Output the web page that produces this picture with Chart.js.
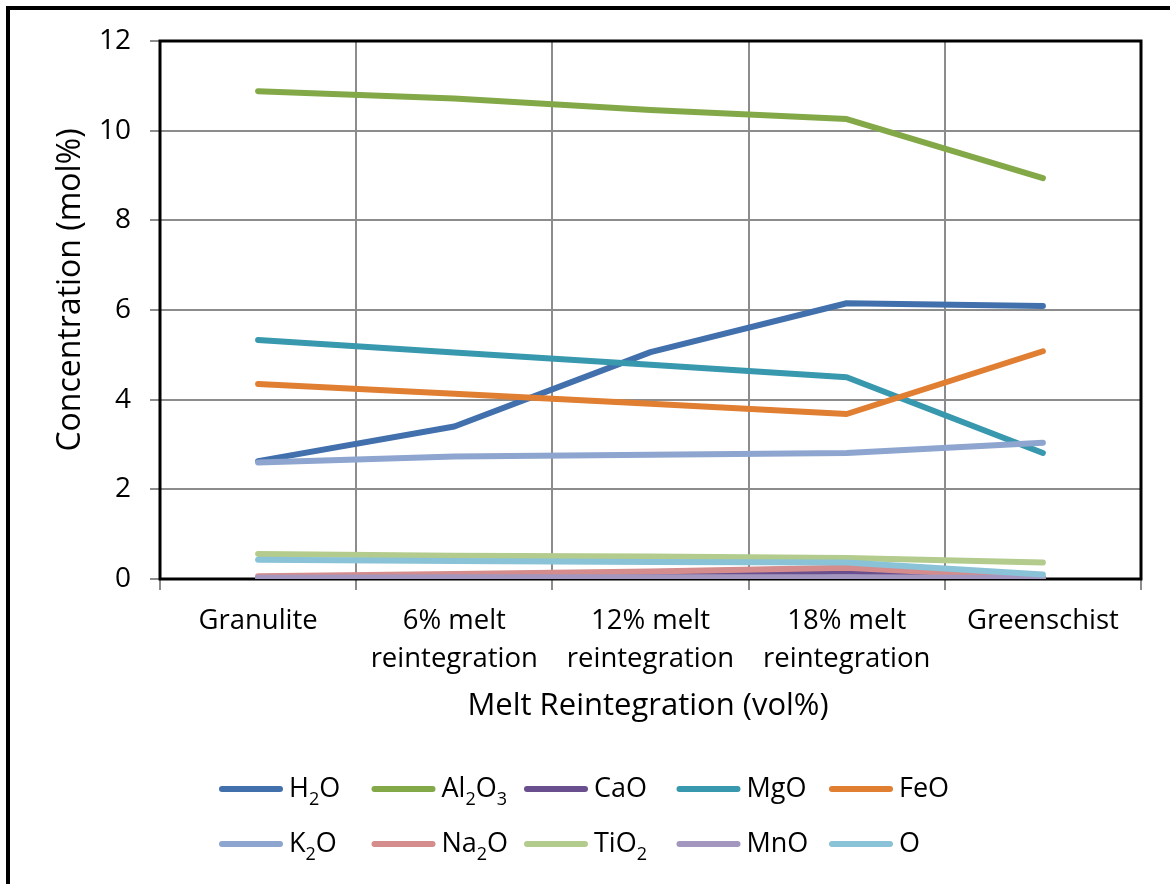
<!DOCTYPE html>
<html>
<head>
<meta charset="utf-8">
<title>Concentration vs melt reintegration</title>
<script src="https://cdn.jsdelivr.net/npm/chart.js@4/dist/chart.umd.min.js"></script>
<style>
  html, body { margin: 0; padding: 0; background: #ffffff; }
  #wrap { position: relative; width: 1170px; height: 884px; }
</style>
</head>
<body>
<div id="wrap"><canvas id="chart" width="1170" height="884"></canvas></div>
<script>
// Stages of melt reintegration (x categories)
const categories = [
  ["Granulite"],
  ["6% melt", "reintegration"],
  ["12% melt", "reintegration"],
  ["18% melt", "reintegration"],
  ["Greenschist"]
];

// Oxide concentrations, mol%
const h2o   = [2.63, 3.40, 5.06, 6.15, 6.09];
const al2o3 = [10.88, 10.72, 10.46, 10.26, 8.94];
const cao   = [0.02, 0.04, 0.07, 0.17, 0.02];
const mgo   = [5.33, 5.05, 4.78, 4.50, 2.81];
const feo   = [4.35, 4.13, 3.91, 3.68, 5.08];
const k2o   = [2.60, 2.73, 2.77, 2.81, 3.04];
const na2o  = [0.06, 0.11, 0.17, 0.25, 0.03];
const tio2  = [0.56, 0.52, 0.50, 0.47, 0.37];
const mno   = [0.03, 0.04, 0.04, 0.04, 0.02];
const oxy   = [0.43, 0.40, 0.38, 0.37, 0.10];

// Series names; "_" marks a subscript digit run
const seriesNames = ["H_2O", "Al_2O_3", "CaO", "MgO", "FeO", "K_2O", "Na_2O", "TiO_2", "MnO", "O"];
const seriesData = [h2o, al2o3, cao, mgo, feo, k2o, na2o, tio2, mno, oxy];
const seriesColors = ["#4170ac", "#83a847", "#6a4f8e", "#3898ae", "#e07e32",
                      "#8da5cf", "#d48d8c", "#b3cc8d", "#a397bf", "#8ac3d7"];

// Y axis
const yMin = 0, yMax = 12, yStep = 2;
const xTitle = "Melt Reintegration (vol%)";
const yTitle = "Concentration (mol%)";

const FONT = "'Open Sans', 'Liberation Sans', sans-serif";

// Draws a name like "Al_2O_3" with lowered, smaller subscripts; returns width
function drawChem(ctx, name, x, y, size) {
  const parts = name.split(/(_\d+)/).filter(s => s.length);
  let cx = x;
  for (const p of parts) {
    if (p[0] === "_") {
      ctx.font = Math.round(size * 0.68) + "px " + FONT;
      ctx.fillText(p.slice(1), cx, y + size * 0.42);
      cx += ctx.measureText(p.slice(1)).width;
    } else {
      ctx.font = size + "px " + FONT;
      ctx.fillText(p, cx, y);
      cx += ctx.measureText(p).width;
    }
  }
  return cx - x;
}

const framePlugin = {
  id: "frame",
  beforeDraw(chart) {
    const ctx = chart.ctx;
    ctx.save();
    ctx.fillStyle = "#ffffff";
    ctx.fillRect(0, 0, chart.width, chart.height);
    // outer black frame (top and left edges)
    ctx.fillStyle = "#000000";
    ctx.fillRect(6, 6, chart.width - 6, 4);
    ctx.fillRect(6, 6, 4, chart.height - 6);
    ctx.restore();
  },
  beforeDatasetsDraw(chart) {
    const { ctx, chartArea: a } = chart;
    ctx.save();
    ctx.strokeStyle = "#000000";
    ctx.lineWidth = 3;
    ctx.strokeRect(a.left, a.top, a.right - a.left, a.bottom - a.top);
    ctx.restore();
  },
  afterDraw(chart) {
    const { ctx } = chart;
    ctx.save();
    ctx.fillStyle = "#000000";
    ctx.textBaseline = "middle";
    // axis titles
    ctx.font = "31px " + FONT;
    ctx.textAlign = "center";
    ctx.fillText(xTitle, 648, 706);
    ctx.font = "32px " + FONT;
    ctx.translate(71, 290);
    ctx.rotate(-Math.PI / 2);
    ctx.fillText(yTitle, 0, 0);
    ctx.restore();

    // legend: 5 columns x 2 rows
    ctx.save();
    ctx.textBaseline = "middle";
    ctx.textAlign = "left";
    ctx.fillStyle = "#000000";
    seriesNames.forEach((name, i) => {
      const col = i % 5, row = Math.floor(i / 5);
      const x0 = 222 + col * 152.5;
      const y0 = 789 + row * 55;
      ctx.strokeStyle = seriesColors[i];
      ctx.lineWidth = 6;
      ctx.lineCap = "round";
      ctx.beginPath();
      ctx.moveTo(x0, y0);
      ctx.lineTo(x0 + 58, y0);
      ctx.stroke();
      drawChem(ctx, name, x0 + 67, y0, 27);
    });
    ctx.restore();
  }
};

const datasets = seriesNames.map((name, i) => ({
  label: name.replace(/_/g, ""),
  data: seriesData[i],
  borderColor: seriesColors[i],
  backgroundColor: seriesColors[i],
  borderWidth: 6,
  borderCapStyle: "round",
  borderJoinStyle: "round",
  pointRadius: 0,
  tension: 0,
  fill: false,
  order: -i   // later series painted on top
}));

new Chart(document.getElementById("chart"), {
  type: "line",
  data: { labels: categories, datasets },
  options: {
    responsive: false,
    animation: false,
    devicePixelRatio: 1,
    layout: { padding: { top: 41, right: 29, left: 0, bottom: 0 } },
    plugins: { legend: { display: false }, tooltip: { enabled: false } },
    scales: {
      x: {
        type: "category",
        offset: true,
        grid: {
          offset: true,
          color: "#8c8c8c",
          lineWidth: 2,
          tickLength: 11,
          drawOnChartArea: true
        },
        border: { display: false },
        ticks: {
          color: "#000000",
          font: { family: FONT, size: 27.5, lineHeight: 1.38 },
          padding: 12,
          maxRotation: 0,
          autoSkip: false
        },
        afterFit(scale) { scale.height = 884 - 579; }
      },
      y: {
        min: yMin,
        max: yMax,
        grid: { color: "#8c8c8c", lineWidth: 2, tickLength: 10 },
        border: { display: false },
        ticks: {
          stepSize: yStep,
          color: "#000000",
          font: { family: FONT, size: 28 },
          padding: 19
        },
        afterFit(scale) { scale.width = 160; }
      }
    }
  },
  plugins: [framePlugin]
});
</script>
</body>
</html>
